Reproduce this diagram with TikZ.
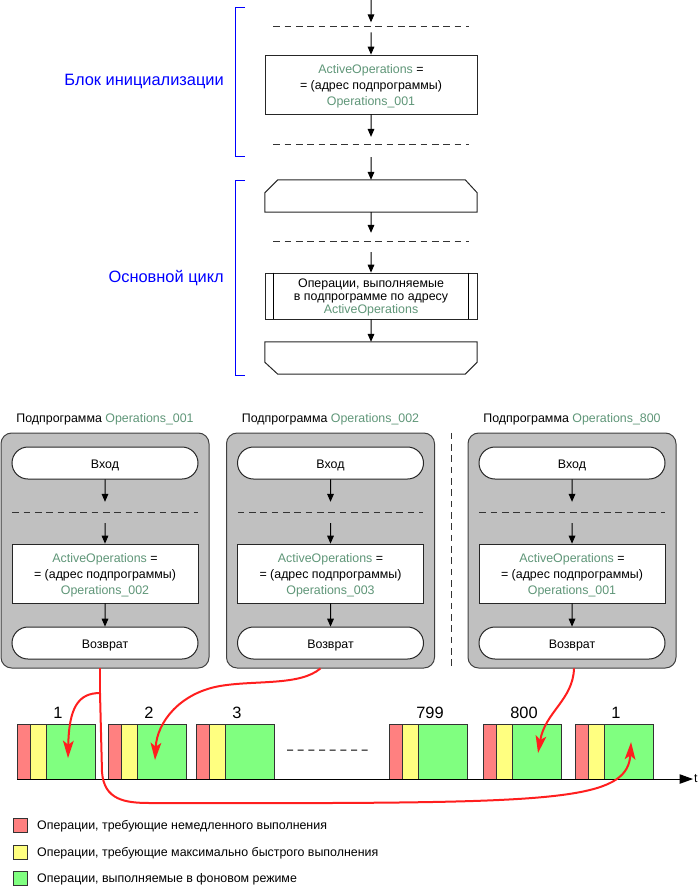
\documentclass[tikz,border=0pt]{standalone}
\usepackage{fontspec}
\setmainfont{Liberation Sans}
\usetikzlibrary{arrows.meta, positioning, calc, shapes.misc}

\definecolor{opgreen}{RGB}{95,150,120}
\definecolor{opred}{RGB}{255,128,128}
\definecolor{opyellow}{RGB}{255,255,128}
\definecolor{oplime}{RGB}{128,255,128}
\definecolor{subgray}{RGB}{192,192,192}
\definecolor{flowred}{RGB}{255,30,30}
\definecolor{lblblue}{RGB}{0,0,255}
\newcommand{\opname}[1]{\textcolor{opgreen}{#1}}

\begin{document}
\begin{tikzpicture}[x=1pt, y=-1pt, scale=0.75, transform shape,
  font=\fontsize{12.4}{16}\selectfont,
  textlow/.style = {execute at begin node={\rule{0pt}{13pt}}},
  procbox/.style = {draw=black!85, fill=white, line width=0.75pt, minimum width=212pt, minimum height=59pt, align=center, inner sep=0pt, text height=41pt, text depth=0pt},
  loopshape/.style = {minimum width=212pt, minimum height=32pt, inner sep=0pt},
  shapeln/.style = {draw=black!85, fill=white, line width=0.75pt},
  termbox/.style = {textlow, rounded rectangle, draw=black!85, fill=white, line width=0.75pt, minimum width=186pt, minimum height=32pt, inner sep=0pt},
  subbox/.style = {draw=black!75, fill=subgray, rounded corners=8pt, line width=0.75pt, minimum width=208pt, minimum height=235pt},
  dashsep/.style = {inner sep=0pt, minimum height=0pt},
  dashln/.style = {draw=black!80, dash pattern=on 5pt off 3.5pt, line width=0.75pt},
  arr/.style = {-{Triangle[length=6pt, width=5pt]}, line width=0.75pt},
  axisarr/.style = {-{Triangle[length=10pt, width=7pt]}, line width=0.75pt},
  redln/.style = {draw=flowred, line width=1.5pt},
  redarr/.style = {-{Stealth[length=13pt, width=8pt, inset=3pt]}, draw=flowred, line width=1.5pt},
  redop/.style = {draw=black!80, fill=opred, line width=0.75pt, outer sep=0pt, minimum width=13pt, minimum height=55pt, inner sep=0pt},
  yelop/.style = {redop, fill=opyellow, minimum width=16pt},
  grnop/.style = {redop, fill=oplime, minimum width=49pt},
  legbox/.style = {minimum width=14pt, minimum height=14pt},
  legtext/.style = {anchor=west, inner sep=0pt},
  blkno/.style = {font=\fontsize{16.4}{18}\selectfont},
  bluelbl/.style = {text=lblblue, font=\fontsize{16.4}{18}\selectfont, anchor=east, inner sep=0pt},
  bracket/.style = {draw=lblblue, line width=0.75pt},
  gapdash/.style = {dash pattern=on 4.5pt off 3.5pt, line width=0.75pt}
]
\useasboundingbox (0,0) rectangle (700,886);

% main program
\coordinate (top) at (371,0);
\node[dashsep, minimum width=195pt] (d1) at (371,26) {};
\node[procbox] (init) at (371,84.5) {\opname{ActiveOperations} =\\= (адрес подпрограммы)\\\opname{Operations\_001}};
\node[dashsep, minimum width=195pt] (d2) at (371,144) {};
\node[loopshape] (loopbeg) at (371,196) {};
\node[dashsep, minimum width=195pt] (d3) at (371,241) {};
\node[procbox, minimum height=46pt, text height=34pt, font=\fontsize{12.4}{13}\selectfont] (loopbody) at (371,296) {Операции, выполняемые\\в подпрограмме по адресу\\\opname{ActiveOperations}};
\node[loopshape] (loopend) at (371,358) {};
\foreach \d in {d1,d2,d3} \draw[dashln] (\d.west) -- (\d.east);
\draw[shapeln] (loopbeg.south west) -- ($(loopbeg.north west)+(0,13)$) -- ($(loopbeg.north west)+(13,0)$) -- ($(loopbeg.north east)+(-12,0)$) -- ($(loopbeg.north east)+(0,13)$) -- (loopbeg.south east) -- cycle;
\draw[shapeln] (loopend.north west) -- ($(loopend.south west)+(0,-12)$) -- ($(loopend.south west)+(13,0)$) -- ($(loopend.south east)+(-12,0)$) -- ($(loopend.south east)+(0,-12)$) -- (loopend.north east) -- cycle;
\draw[line width=0.75pt] ($(loopbody.north west)+(9,0)$) -- ($(loopbody.south west)+(9,0)$);
\draw[line width=0.75pt] ($(loopbody.north east)+(-9,0)$) -- ($(loopbody.south east)+(-9,0)$);
\draw[arr, shorten >=2.6pt] (top) -- (d1);
\draw[arr, shorten <=4.7pt] (d1) -- (init);
\draw[arr, shorten >=5.2pt] (init) -- (d2);
\draw[arr, shorten <=9.7pt] (d2) -- (loopbeg.north);
\draw[arr, shorten >=6pt] (loopbeg) -- (d3);
\draw[arr, shorten <=8.2pt] (d3) -- (loopbody);
\draw[arr] (loopbody) -- (loopend);

% block brackets
\draw[bracket] (245,7) -| (235,156) -- (245,156);
\draw[bracket] (245,180) -| (235,375) -- (245,375);
\node[bluelbl] (initlbl) at (224,81) {Блок инициализации};
\node[bluelbl] (looplbl) at (224,278) {Основной цикл};

% subroutines
\foreach \cx/\src/\tgt [count=\i] in {105/001/002, 330.5/002/003, 572/800/001} {
  \node[subbox] (sb\i) at (\cx,550.5) {};
  \node (st\i) at (\cx,419) {Подпрограмма \opname{Operations\_\src}};
  \node[termbox] (in\i) at (\cx,463) {Вход};
  \node[dashsep, minimum width=185pt] (sd\i) at (\cx,512) {};
  \node[procbox, minimum width=186pt] (sa\i) at (\cx,573.5) {\opname{ActiveOperations} =\\= (адрес подпрограммы)\\\opname{Operations\_\tgt}};
  \node[termbox] (rt\i) at (\cx,643) {Возврат};
  \draw[dashln] (sd\i.west) -- (sd\i.east);
  \draw[arr, shorten >=7.5pt] (in\i) -- (sd\i);
  \draw[arr, shorten <=8.2pt] (sd\i) -- (sa\i);
  \draw[arr] (sa\i) -- (rt\i);
}
\node[dashsep, minimum height=235pt] (vsep) at (451,550.5) {};
\draw[dashln] (vsep.north) -- (vsep.south);

% time line
\foreach \bx/\lbl [count=\i] in {17/1, 108/2, 196/3, 389/799, 483/800, 575/1} {
  \node[redop, anchor=south west] (r\i) at (\bx,779) {};
  \node[yelop, anchor=south west] (y\i) at (r\i.south east) {};
  \node[grnop, anchor=south west] (g\i) at (y\i.south east) {};
  \node[blkno] (n\i) at ($(r\i.north west)!0.5!(g\i.north east)+(2,-11)$) {\lbl};
}
\coordinate (tend) at (693,779);
\draw[axisarr] (r1.south west) -- (tend);
\node[anchor=west, inner sep=1pt] (tlbl) at (tend) {t};
\draw[gapdash] ($(g3.east)+(13,-1.5)$) -- ($(r4.west)+(-17,-1.5)$);

% switching of ActiveOperations
\coordinate (fork) at (100,693);
\draw[redln] (sb1.south -| fork) -- (fork);
\draw[redarr] (fork) .. controls (78,693) and (69,708) .. ($(g1.center)+(-2.5,6.5)$);
\draw[redarr] (fork) -- (102,772) .. controls (104,800) and (125,803) .. (150,803) -- (330,803) .. controls (570,802) and (628,796) .. ($(g6.center)+(2.5,-9.5)$);
\draw[redarr] ($(sb2.south)+(-10,0)$) .. controls (300,686) and (255,680) .. (220,686) .. controls (180,693) and (157,722) .. ($(g2.center)+(-6.5,8.5)$);
\draw[redarr] ($(sb3.south)+(2,0)$) .. controls (573,700) and (545,712) .. ($(g5.center)+(1.5,1.5)$);

% legend
\node[redop, legbox] (lg1) at (20,825) {};
\node[yelop, legbox] (lg2) at (20,852) {};
\node[grnop, legbox] (lg3) at (20,878.5) {};
\node[legtext] (lt1) at (37,826) {Операции, требующие немедленного выполнения};
\node[legtext] (lt2) at (37,853) {Операции, требующие максимально быстрого выполнения};
\node[legtext] (lt3) at (37,879.5) {Операции, выполняемые в фоновом режиме};
\end{tikzpicture}
\end{document}
